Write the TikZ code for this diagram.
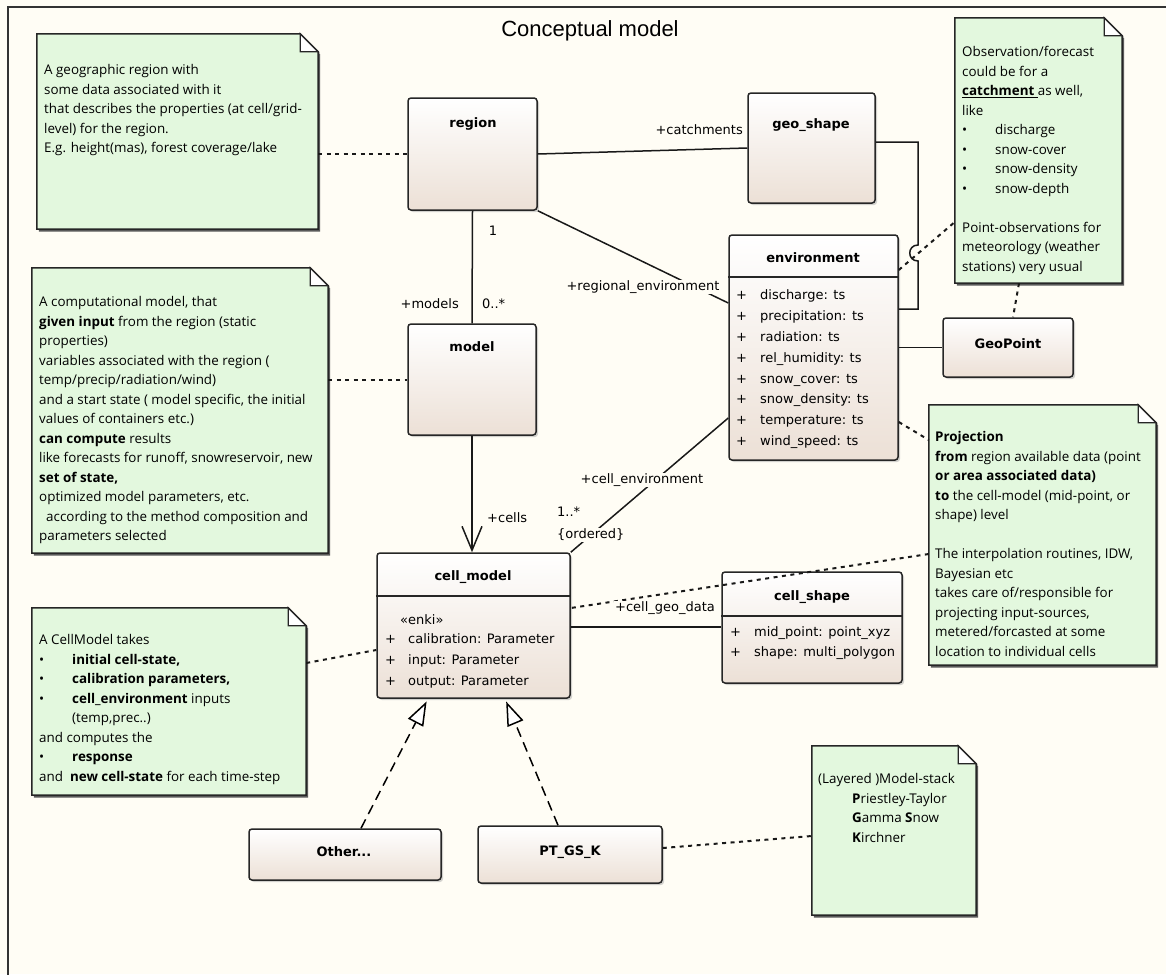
\documentclass[tikz,border=0pt]{standalone}
\usepackage{fontspec}
\setmainfont{Open Sans}
\newfontfamily\umlfont{DejaVu Sans}
\newfontfamily\titlefont{Liberation Sans}
\usetikzlibrary{arrows.meta,shadows,fit}
\definecolor{bgc}{RGB}{255,253,245}
\definecolor{notec}{RGB}{227,248,222}
\definecolor{clsbot}{RGB}{236,224,214}
\tikzset{
 umlbox/.style={draw=black!85, line width=1.5pt, rounded corners=3pt, top color=white, bottom color=clsbot, inner sep=0pt,
   drop shadow={shadow xshift=2pt,shadow yshift=-2pt,fill=black!35}},
 clsname/.style={font=\umlfont\bfseries\fontsize{13}{15}\selectfont, inner sep=0pt, text height=9.5pt, text depth=2.5pt},
 attr/.style={font=\umlfont\fontsize{13}{15}\selectfont, inner sep=0pt, anchor=west, text height=9.5pt, text depth=2.5pt},
 lbl/.style={font=\umlfont\fontsize{13}{15}\selectfont, inner sep=1pt, text height=9.5pt, text depth=2.5pt},
 lblbg/.style={lbl, fill=bgc},
 assoc/.style={line width=1.5pt, draw=black!90},
 anchorline/.style={line width=2pt, dash pattern=on 4pt off 4.5pt, draw=black!90},
 realize/.style={line width=1.5pt, dash pattern=on 10pt off 6pt, shorten >=3pt, -{Triangle[fill=white,length=24pt,width=17pt]}},
 navig/.style={assoc, -{Straight Barb[length=24pt,width=20pt]}},
 notetxt/.style={font=\fontsize{13.4}{19.5}\selectfont, align=left, inner sep=0pt, anchor=north west},
}
\newcommand\mknote[5]{%
 \coordinate (#1nw) at (#2,#3); \coordinate (#1se) at (#4,#5);
 \node[fit=(#1nw)(#1se), inner sep=0pt] (#1) {};
 \fill[black!65] ([shift={(2pt,-2.5pt)}]#1.north west) -- ([shift={(-16pt,-2.5pt)}]#1.north east) -- ([shift={(2pt,-20.5pt)}]#1.north east) -- ([shift={(2pt,-2.5pt)}]#1.south east) -- ([shift={(2pt,-2.5pt)}]#1.south west) -- cycle;
 \filldraw[fill=notec, draw=black!85, line width=1.5pt] (#1.north west) -- ([xshift=-18pt]#1.north east) -- ([yshift=-18pt]#1.north east) -- (#1.south east) -- (#1.south west) -- cycle;
 \filldraw[fill=white, draw=black!85, line width=1.3pt] ([xshift=-18pt]#1.north east) -- ([shift={(-18pt,-18pt)}]#1.north east) -- ([yshift=-18pt]#1.north east) -- cycle;
}
\begin{document}
\begin{tikzpicture}[x=1pt,y=-1pt]
\useasboundingbox (0,0) rectangle (1166,974);
\fill[bgc] (0,0) rectangle (1166,974);
\draw[line width=1.2pt, black!80] (8,990) -- (8,7) -- (1180,7);
\node[font=\titlefont\fontsize{22}{26}\selectfont, anchor=base] (title) at (590,37) {Conceptual model};

% ---------- notes ----------
\mknote{n1}{37}{34}{318}{229}
\node[notetxt] (n1t) at (44,64.5) {A geographic region with\\
some data associated with it\\
that describes the properties (at cell/grid-\\
level) for the region.\\
E.g. height(mas), forest coverage/lake};

\mknote{n2}{955}{18}{1122}{283}
\node[notetxt] (n2t) at (962,46.5) {Observation/forecast\\
could be for a\\
\underline{\textbf{catchment}\ }as well,\\
like\\
\makebox[33pt][l]{\textbullet}discharge\\
\makebox[33pt][l]{\textbullet}snow-cover\\
\makebox[33pt][l]{\textbullet}snow-density\\
\makebox[33pt][l]{\textbullet}snow-depth\\[19.5pt]
Point-observations for\\
meteorology (weather\\
stations) very usual};

\mknote{n3}{32}{268}{328}{553}
\node[notetxt] (n3t) at (39,296.5) {A computational model, that\\
\textbf{given input} from the region (static\\
properties)\\
variables associated with the region (\\
temp/precip/radiation/wind)\\
and a start state ( model specific, the initial\\
values of containers etc.)\\
\textbf{can compute} results\\
like forecasts for runoff, snowreservoir, new\\
\textbf{set of state,}\\
optimized model parameters, etc.\\
\hspace*{7pt}according to the method composition and\\
parameters selected};

\mknote{n4}{929}{405}{1156}{665}
\node[notetxt] (n4t) at (935,431.5) {\textbf{Projection}\\
\textbf{from} region available data (point\\
\textbf{or area associated data)}\\
\textbf{to} the cell-model (mid-point, or\\
shape) level\\[19.5pt]
The interpolation routines, IDW,\\
Bayesian etc\\
takes care of/responsible for\\
projecting input-sources,\\
metered/forcasted at some\\
location to individual cells};

\mknote{n5}{32}{608}{306}{795}
\node[notetxt] (n5t) at (39,634.5) {A CellModel takes\\
\makebox[33pt][l]{\textbullet}\textbf{initial cell-state,}\\
\makebox[33pt][l]{\textbullet}\textbf{calibration parameters,}\\
\makebox[33pt][l]{\textbullet}\textbf{cell\_environment} inputs\\
\hspace*{33pt}(temp,prec..)\\
and computes the\\
\makebox[33pt][l]{\textbullet}\textbf{response}\\
and\ \ \textbf{new cell-state} for each time-step};

\mknote{n6}{812}{746}{976}{915}
\node[notetxt] (n6t) at (818,773.5) {(Layered )Model-stack\\
\hspace*{34pt}\textbf{P}riestley-Taylor\\
\hspace*{34pt}\textbf{G}amma \textbf{S}now\\
\hspace*{34pt}\textbf{K}irchner};

% ---------- classes ----------
\node[umlbox, fit={(408,98) (537,210)}] (region) {};
\node[clsname] (regiont) at (473,124) {region};
\node[umlbox, fit={(748,93) (875,203)}] (geoshape) {};
\node[clsname] (geoshapet) at (811,125) {geo\_shape};
\node[umlbox, fit={(408,324) (536,435)}] (model) {};
\node[clsname] (modelt) at (472,348) {model};
\node[umlbox, fit={(943,318) (1073,377)}] (geopoint) {};
\node[clsname] (geopointt) at (1008,345) {GeoPoint};
\node[umlbox, fit={(249,829) (441,880)}] (other) {};
\node[clsname] (othert) at (344,853) {Other...};
\node[umlbox, fit={(478,826) (662,883)}] (ptgsk) {};
\node[clsname] (ptgskt) at (570,852) {PT\_GS\_K};

\node[umlbox, fit={(729,235) (898,460)}] (environment) {};
\draw[line width=1.5pt, black!85] (environment.west |- 0,277) -- (environment.east |- 0,277);
\node[clsname] (envt) at (813,259) {environment};
\foreach \t [count=\i] in {discharge: ts, precipitation: ts, radiation: ts, rel\_humidity: ts, snow\_cover: ts, snow\_density: ts, temperature: ts, wind\_speed: ts}{
  \node[attr] (envp\i) at (736,{275+20.9*\i}) {+};
  \node[attr] (enva\i) at (760,{275+20.9*\i}) {\t};
}

\node[umlbox, fit={(377,553) (570,698)}] (cellmodel) {};
\draw[line width=1.5pt, black!85] (cellmodel.west |- 0,596) -- (cellmodel.east |- 0,596);
\node[clsname] (cmt) at (473,577) {cell\_model};
\node[attr] (cmst) at (400,621) {«enki»};
\node[attr] (cmp1) at (385,640) {+};
\node[attr] (cma1) at (408,640) {calibration: Parameter};
\node[attr] (cmp2) at (385,661) {+};
\node[attr] (cma2) at (408,661) {input: Parameter};
\node[attr] (cmp3) at (385,682) {+};
\node[attr] (cma3) at (408,682) {output: Parameter};

\node[umlbox, fit={(722,572) (902,683)}] (cellshape) {};
\draw[line width=1.5pt, black!85] (cellshape.west |- 0,616) -- (cellshape.east |- 0,616);
\node[clsname] (cst) at (812,597) {cell\_shape};
\node[attr] (csp1) at (730,633) {+};
\node[attr] (csa1) at (754,633) {mid\_point: point\_xyz};
\node[attr] (csp2) at (730,653) {+};
\node[attr] (csa2) at (754,653) {shape: multi\_polygon};

% ---------- connectors ----------
\draw[assoc] (region.east) -- (geoshape.west);
\draw[assoc] (region.south east) -- (environment.west |- 0,303);
\draw[assoc] (region.south) -- (model.north);
\draw[navig] (model.south) -- (model.south |- cellmodel.north);
\draw[assoc] (environment.west |- 0,418) -- (cellmodel.north east);
\draw[assoc] (cellmodel.east |- 0,627) -- (cellshape.west |- 0,627);
\draw[assoc] (environment.east |- geopoint.west) -- (geopoint.west);
\draw[assoc] (geoshape.east |- 0,142) -- (918,142) -- (918,245) .. controls (907,245) and (907,261) .. (918,261) -- (918,309) -- (environment.east |- 0,309);
\draw[realize] (other.north -| 361,0) -- (cellmodel.south -| 428,0);
\draw[realize] (ptgsk.north -| 558,0) -- (cellmodel.south -| 505,0);

\draw[anchorline] (n1.east |- region.west) -- (region.west);
\draw[anchorline] (n3.east |- model.west) -- (model.west);
\draw[anchorline] (n5.east |- 0,663) -- (cellmodel.west |- 0,650);
\draw[anchorline] (environment.east |- 0,270) -- (n2.west |- 0,222);
\draw[anchorline] (n2.south -| 1019,0) -- (geopoint.north -| 1013,0);
\draw[anchorline] (environment.east |- 0,422) -- (n4.west |- 0,440);
\draw[anchorline] (n4.west |- 0,554) -- (cellmodel.east |- 0,608);
\draw[anchorline] (ptgsk.east |- 0,848) -- (n6.west |- 0,836);

% ---------- labels ----------
\node[lbl, anchor=east] (lcatch) at (744,131) {+catchments};
\node[lblbg] (lregenv) at (643,287) {+regional\_environment};
\node[lbl] (lone) at (493,232) {1};
\node[lbl, anchor=east] (lmodels) at (460,305) {+models};
\node[lbl, anchor=west] (lmult) at (481,305) {0..*};
\node[lbl, anchor=west] (lcells) at (486,519) {+cells};
\node[lblbg] (lcellenv) at (642,480) {+cell\_environment};
\node[lblbg, anchor=west] (lmult2) at (556,513) {1..*};
\node[lblbg, anchor=west] (lord) at (556,535) {\{ordered\}};
\node[lblbg] (lgeo) at (665,608) {+cell\_geo\_data};
\end{tikzpicture}
\end{document}
